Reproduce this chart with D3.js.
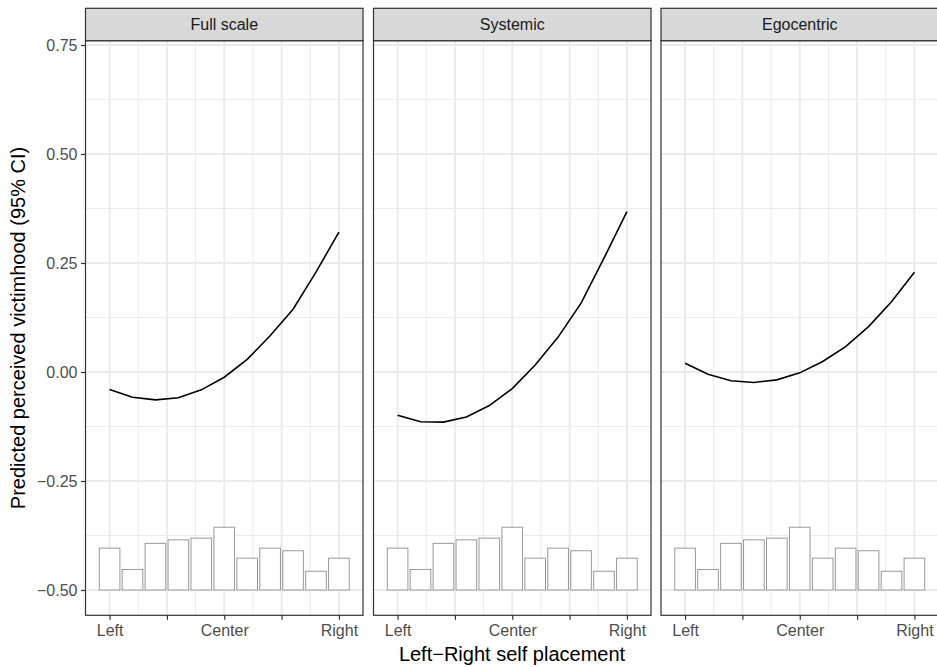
<!DOCTYPE html>
<html>
<head>
<meta charset="utf-8">
<script src="https://cdn.jsdelivr.net/npm/d3@7"></script>
<style>
  body { margin: 0; background: #fff; }
  svg { display: block; font-family: 'Liberation Sans', Arial, sans-serif; }
</style>
</head>
<body>
<svg id="chart" width="937" height="667"></svg>
<script>
// facet panels
const panels = ['Full scale', 'Systemic', 'Egocentric'];

// x positions 0..10 on the left-right scale
const positions = [0, 1, 2, 3, 4, 5, 6, 7, 8, 9, 10];
const xTickValues = [0, 2.5, 5, 7.5, 10];
const xTickLabels = ['Left', '', 'Center', '', 'Right'];
const xMinorValues = [1.25, 3.75, 6.25, 8.75];

const yTickValues = [-0.5, -0.25, 0, 0.25, 0.5, 0.75];
const yMinorValues = [-0.375, -0.125, 0.125, 0.375, 0.625];

// predicted values per panel
const fullScale = [-0.040, -0.058, -0.064, -0.059, -0.041, -0.012, 0.029, 0.083, 0.144, 0.229, 0.321];
const systemic = [-0.099, -0.114, -0.115, -0.103, -0.077, -0.038, 0.016, 0.080, 0.158, 0.261, 0.368];
const egocentric = [0.020, -0.005, -0.020, -0.024, -0.018, -0.002, 0.024, 0.058, 0.104, 0.161, 0.229];
const predictions = [fullScale, systemic, egocentric];

// distribution bars (top of each bar, on the y scale, from -0.5 base)
const barBase = -0.5;
const barTops = [-0.404, -0.453, -0.393, -0.385, -0.381, -0.356, -0.427, -0.404, -0.410, -0.457, -0.427];

const svg = d3.select('#chart');
const panelWidth = 277.5;
const panelLefts = [85.5, 373.5, 661];
const stripTop = 8.3;
const panelTop = 40.7;
const panelBottom = 615.3;
const tickFont = 16;

const yScale = d3.scaleLinear().domain([-0.5, 0.75]).range([590, 45]);

panels.forEach((name, p) => {
  const left = panelLefts[p];
  const xScale = d3.scaleLinear().domain([-1.05, 11.05]).range([left, left + panelWidth]);
  const g = svg.append('g');

  // minor gridlines
  g.selectAll('.xminor').data(xMinorValues).enter().append('line')
    .attr('x1', (d) => xScale(d)).attr('x2', (d) => xScale(d))
    .attr('y1', panelTop).attr('y2', panelBottom)
    .attr('stroke', '#ebebeb').attr('stroke-width', 1);
  g.selectAll('.yminor').data(yMinorValues).enter().append('line')
    .attr('x1', left).attr('x2', left + panelWidth)
    .attr('y1', (d) => yScale(d)).attr('y2', (d) => yScale(d))
    .attr('stroke', '#ebebeb').attr('stroke-width', 1);
  // major gridlines
  g.selectAll('.xmajor').data(xTickValues).enter().append('line')
    .attr('x1', (d) => xScale(d)).attr('x2', (d) => xScale(d))
    .attr('y1', panelTop).attr('y2', panelBottom)
    .attr('stroke', '#ebebeb').attr('stroke-width', 2);
  g.selectAll('.ymajor').data(yTickValues).enter().append('line')
    .attr('x1', left).attr('x2', left + panelWidth)
    .attr('y1', (d) => yScale(d)).attr('y2', (d) => yScale(d))
    .attr('stroke', '#ebebeb').attr('stroke-width', 2);

  // bars
  g.selectAll('rect.bar').data(barTops).enter().append('rect')
    .attr('class', 'bar')
    .attr('x', (d, i) => xScale(positions[i] - 0.45))
    .attr('width', xScale(0.9) - xScale(0))
    .attr('y', (d) => yScale(d))
    .attr('height', (d) => yScale(barBase) - yScale(d))
    .attr('fill', '#fff').attr('stroke', '#999').attr('stroke-width', 1);

  // prediction line
  const line = d3.line().x((d, i) => xScale(positions[i])).y((d) => yScale(d));
  g.append('path').datum(predictions[p])
    .attr('d', line).attr('fill', 'none')
    .attr('stroke', '#000').attr('stroke-width', 1.6);

  // panel border
  g.append('rect')
    .attr('x', left).attr('y', panelTop)
    .attr('width', panelWidth).attr('height', panelBottom - panelTop)
    .attr('fill', 'none').attr('stroke', '#333').attr('stroke-width', 1.2);

  // strip
  g.append('rect')
    .attr('x', left).attr('y', stripTop)
    .attr('width', panelWidth).attr('height', panelTop - stripTop)
    .attr('fill', '#d9d9d9').attr('stroke', '#333').attr('stroke-width', 1.2);
  g.append('text')
    .attr('x', left + panelWidth / 2).attr('y', (stripTop + panelTop) / 2 + 5.5)
    .attr('text-anchor', 'middle').attr('font-size', tickFont).attr('fill', '#1a1a1a')
    .text(name);

  // x axis
  const xAxis = d3.axisBottom(xScale).tickValues(xTickValues)
    .tickFormat((d, i) => xTickLabels[i]).tickSize(4.5).tickPadding(5);
  const xAxisG = g.append('g').attr('transform', `translate(0,${panelBottom})`).call(xAxis);
  xAxisG.select('.domain').remove();
  xAxisG.selectAll('line').attr('stroke', '#333').attr('stroke-width', 1.2);
  xAxisG.selectAll('text').attr('font-size', tickFont).attr('fill', '#4d4d4d')
    .attr('font-family', 'Liberation Sans, Arial, sans-serif');
});

// y axis on first panel
const yAxis = d3.axisLeft(yScale).tickValues(yTickValues)
  .tickFormat((d) => d3.format('.2f')(d).replace('-', '\u2212')).tickSize(4.5).tickPadding(3.5);
const yAxisG = svg.append('g').attr('transform', `translate(${panelLefts[0]},0)`).call(yAxis);
yAxisG.select('.domain').remove();
yAxisG.selectAll('line').attr('stroke', '#333').attr('stroke-width', 1.2);
yAxisG.selectAll('text').attr('font-size', tickFont).attr('fill', '#4d4d4d')
  .attr('font-family', 'Liberation Sans, Arial, sans-serif');

// axis titles
svg.append('text')
  .attr('x', (panelLefts[0] + panelLefts[2] + panelWidth) / 2).attr('y', 661)
  .attr('text-anchor', 'middle').attr('font-size', 20).attr('fill', '#000')
  .text('Left\u2212Right self placement');
svg.append('text')
  .attr('transform', `translate(25,${(panelTop + panelBottom) / 2}) rotate(-90)`)
  .attr('text-anchor', 'middle').attr('font-size', 20).attr('fill', '#000')
  .text('Predicted perceived victimhood (95% CI)');
</script>
</body>
</html>
